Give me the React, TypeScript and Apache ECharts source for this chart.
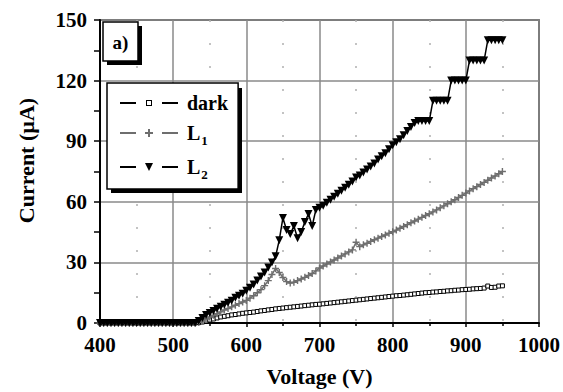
import React, { useEffect, useRef } from 'react';
import * as echarts from 'echarts';

// Voltage (V), 5 V steps
const voltage = [
  400, 405, 410, 415, 420, 425, 430, 435, 440, 445,
  450, 455, 460, 465, 470, 475, 480, 485, 490, 495,
  500, 505, 510, 515, 520, 525, 530, 535, 540, 545,
  550, 555, 560, 565, 570, 575, 580, 585, 590, 595,
  600, 605, 610, 615, 620, 625, 630, 635, 640, 645,
  650, 655, 660, 665, 670, 675, 680, 685, 690, 695,
  700, 705, 710, 715, 720, 725, 730, 735, 740, 745,
  750, 755, 760, 765, 770, 775, 780, 785, 790, 795,
  800, 805, 810, 815, 820, 825, 830, 835, 840, 845,
  850, 855, 860, 865, 870, 875, 880, 885, 890, 895,
  900, 905, 910, 915, 920, 925, 930, 935, 940, 945,
  950,
];

// Current (µA)
const dark = [
  0, 0, 0, 0, 0, 0, 0, 0, 0, 0,
  0, 0, 0, 0, 0, 0, 0, 0, 0, 0,
  0, 0, 0, 0, 0, 0, 0, 0.2, 0.5, 1,
  1.5, 2, 2.5, 3, 3.3, 3.6, 4, 4.2, 4.5, 4.8,
  5, 5.2, 5.4, 5.7, 6, 6.2, 6.5, 6.7, 7, 7.2,
  7.4, 7.6, 7.8, 8, 8.2, 8.4, 8.6, 8.8, 9, 9.2,
  9.3, 9.5, 9.7, 9.9, 10.1, 10.3, 10.5, 10.7, 10.9, 11.1,
  11.3, 11.5, 11.7, 11.9, 12.1, 12.3, 12.5, 12.7, 12.9, 13.1,
  13.3, 13.5, 13.6, 13.8, 14, 14.2, 14.4, 14.6, 14.8, 15,
  15.1, 15.3, 15.4, 15.6, 15.7, 15.9, 16, 16.2, 16.3, 16.5,
  16.6, 16.7, 16.9, 17, 17.1, 17.3, 18.3, 17.6, 17.7, 18.3,
  18.4,
];

const L1 = [
  0, 0, 0, 0, 0, 0, 0, 0, 0, 0,
  0, 0, 0, 0, 0, 0, 0, 0, 0, 0,
  0, 0, 0, 0, 0, 0, 0, 0.3, 1, 2,
  3, 3.8, 4.6, 5.5, 6.4, 7.2, 8, 8.8, 9.6, 10.4,
  11.2, 12.3, 13.5, 15, 16.5, 18.5, 21, 24, 27, 25,
  22.5, 20.5, 19.8, 20.2, 21, 21.8, 22.6, 23.5, 24.5, 25.8,
  27.2, 28.2, 29.2, 30.2, 31.2, 32.2, 33.2, 34.2, 35.2, 36.2,
  40, 37.8, 38.7, 39.5, 40.4, 41.2, 42, 42.8, 43.6, 44.4,
  45.2, 46, 46.9, 47.8, 48.7, 49.6, 50.5, 51.4, 52.3, 53.2,
  54.1, 55, 56, 57, 58, 59, 60, 61, 62.1, 63.2,
  64.3, 65.4, 66.5, 67.5, 68.6, 69.6, 70.7, 71.8, 72.8, 73.9,
  75,
];

const L2 = [
  0, 0, 0, 0, 0, 0, 0, 0, 0, 0,
  0, 0, 0, 0, 0, 0, 0, 0, 0, 0,
  0, 0, 0, 0, 0, 0, 0, 1, 2.5, 4,
  5, 6, 7, 8, 9, 10, 11, 12.5, 13.5, 14.5,
  16, 17.5, 19, 21, 23, 25, 27.5, 30, 33, 41,
  52, 46, 44, 48, 42, 45, 50, 54, 48, 56,
  57, 58, 59.5, 61, 62.5, 64, 65.5, 67, 68.5, 70,
  72, 73, 74.5, 76, 77.5, 79, 81, 82.5, 84, 86,
  88, 89.5, 91, 93, 95, 97, 99, 100, 100, 100,
  100, 110, 110, 110, 110, 110, 120, 120, 120, 120,
  120, 130, 130, 130, 130, 130, 140, 140, 140, 140,
  140,
];

const seriesNames = ['dark', 'L1', 'L2'];

const FONT = "'Liberation Serif', 'Times New Roman', serif";
const GRAY = '#6e6e6e';

const ANCHORS = 'M0,0L0.1,0L0,0.1Z M58,18L57.9,18L58,17.9Z ';
const BARS = 'M0,8H16V10H0Z M42,8H58V10H42Z ';
const ICON_DARK = 'path://' + ANCHORS + BARS + 'M26,6H32V12H26Z M27,7V11H31V7Z';
const ICON_L1 = 'path://' + ANCHORS + BARS + 'M28,5H30V8H33V10H30V13H28V10H25V8H28Z';
const ICON_L2 = 'path://' + ANCHORS + BARS + 'M25,5H33L29,13Z';
const PLUS = 'path://M4,0H6V4H10V6H6V10H4V6H0V4H4Z';

export default function App() {
  const ref = useRef<HTMLDivElement>(null);

  useEffect(() => {
    const chart = echarts.init(ref.current as HTMLDivElement, null, { renderer: 'svg' });
    const pairs = (ys: number[]) => voltage.map((v, i) => [v, ys[i]]);
    const labelStyle = { fontFamily: FONT, fontWeight: 'bold', fontSize: 21, color: '#000' };

    chart.setOption({
      animation: false,
      backgroundColor: '#fff',
      grid: {
        left: 100,
        right: 24,
        top: 20,
        bottom: 69,
        show: true,
        borderColor: '#222',
        borderWidth: 1.5,
        backgroundColor: '#fff',
      },
      xAxis: {
        type: 'value',
        min: 400,
        max: 1000,
        interval: 100,
        name: 'Voltage (V)',
        nameLocation: 'middle',
        nameGap: 42,
        nameTextStyle: { ...labelStyle, fontSize: 22 },
        axisLine: { show: true, lineStyle: { color: '#000', width: 2 } },
        axisTick: { show: true, length: 4, lineStyle: { color: '#000', width: 1.5 } },
        minorTick: { show: true, splitNumber: 2, length: 3, lineStyle: { color: '#000', width: 1.5 } },
        axisLabel: { ...labelStyle, margin: 11, formatter: (v: number) => String(v) },
        splitLine: { show: true, lineStyle: { color: '#8a8a8a', width: 1.5 } },
        minorSplitLine: { show: true, lineStyle: { color: '#b0b0b0', width: 1.5, type: [2, 21] } },
      },
      yAxis: {
        type: 'value',
        min: 0,
        max: 150,
        interval: 30,
        name: 'Current (µA)',
        nameLocation: 'middle',
        nameGap: 63,
        nameTextStyle: { ...labelStyle, fontSize: 22, padding: [0, 0, 0, 22] },
        axisLine: { show: true, lineStyle: { color: '#000', width: 2 } },
        axisTick: { show: true, length: 6, lineStyle: { color: '#000', width: 1.5 } },
        minorTick: { show: true, splitNumber: 2, length: 6, lineStyle: { color: '#000', width: 1.5 } },
        axisLabel: { ...labelStyle, margin: 13, formatter: (v: number) => String(v) },
        splitLine: { show: true, lineStyle: { color: '#8a8a8a', width: 1.5 } },
      },
      legend: {
        orient: 'vertical',
        left: 107,
        top: 83,
        itemWidth: 58,
        itemHeight: 18,
        itemGap: 10,
        padding: [10, 10, 8, 13],
        backgroundColor: '#fff',
        borderColor: '#000',
        borderWidth: 1.5,
        borderRadius: 0,
        selectedMode: false,
        z: 6,
        formatter: (n: string) => (n === 'dark' ? '{m|dark}' : `{m|L}{s|${n.slice(1)}}`),
        textStyle: {
          fontFamily: FONT,
          fontWeight: 'bold',
          fontSize: 20,
          color: '#000',
          padding: [0, 0, 0, 4],
          rich: {
            m: {
              fontFamily: FONT,
              fontWeight: 'bold',
              fontSize: 20,
              color: '#000',
              lineHeight: 28,
              verticalAlign: 'middle',
            },
            s: {
              fontFamily: FONT,
              fontWeight: 'bold',
              fontSize: 13,
              color: '#000',
              lineHeight: 28,
              verticalAlign: 'bottom',
              padding: [0, 0, 0, 1],
            },
          },
        },
        data: [
          { name: seriesNames[0], icon: ICON_DARK, itemStyle: { color: '#000', borderWidth: 0 } },
          { name: seriesNames[1], icon: ICON_L1, itemStyle: { color: GRAY, borderWidth: 0 } },
          { name: seriesNames[2], icon: ICON_L2, itemStyle: { color: '#000', borderWidth: 0 } },
        ],
      },
      graphic: [
        {
          type: 'rect',
          shape: { x: 111, y: 88, width: 131, height: 105 },
          style: { fill: '#000' },
          z: 5,
        },
        {
          type: 'rect',
          shape: { x: 107, y: 26, width: 35, height: 39 },
          style: { fill: '#000' },
          z: 10,
        },
        {
          type: 'rect',
          shape: { x: 103, y: 22, width: 35, height: 39 },
          style: { fill: '#fff', stroke: '#000', lineWidth: 1.5 },
          z: 11,
        },
        {
          type: 'text',
          x: 120.5,
          y: 42,
          style: {
            text: 'a)',
            fontFamily: FONT,
            fontWeight: 'bold',
            fontSize: 19,
            fill: '#000',
            align: 'center',
            verticalAlign: 'middle',
          },
          z: 12,
        },
      ],
      series: [
        {
          name: seriesNames[0],
          type: 'line',
          data: pairs(dark),
          symbol: 'rect',
          symbolSize: 4,
          lineStyle: { color: '#000', width: 1.5 },
          itemStyle: { color: '#fff', borderColor: '#000', borderWidth: 1 },
          z: 3,
        },
        {
          name: seriesNames[1],
          type: 'line',
          data: pairs(L1),
          symbol: PLUS,
          symbolSize: 7,
          lineStyle: { color: GRAY, width: 1.5 },
          itemStyle: { color: GRAY },
          z: 4,
        },
        {
          name: seriesNames[2],
          type: 'line',
          data: pairs(L2),
          symbol: 'triangle',
          symbolRotate: 180,
          symbolSize: 8,
          lineStyle: { color: '#000', width: 1.5 },
          itemStyle: { color: '#000' },
          z: 5,
        },
      ],
    });

    return () => chart.dispose();
  }, []);

  return (
    <div
      ref={ref}
      style={{ position: 'fixed', left: 0, top: 0, width: 563, height: 392, background: '#fff' }}
    />
  );
}
